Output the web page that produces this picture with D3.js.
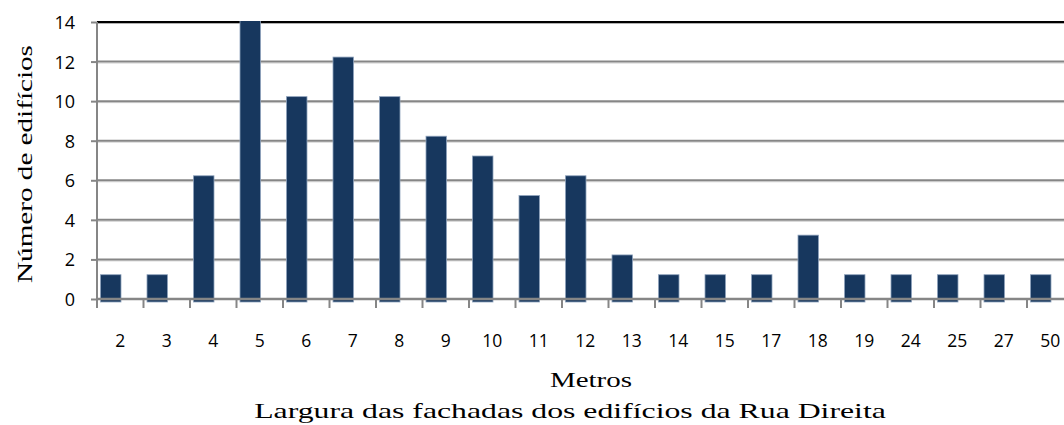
<!DOCTYPE html>
<html>
<head>
<meta charset="utf-8">
<script src="https://cdn.jsdelivr.net/npm/d3@7"></script>
<style>
  body { margin: 0; background: #fff; }
</style>
</head>
<body>
<div id="chart"></div>
<script>
// data
const categories = ["2", "3", "4", "5", "6", "7", "8", "9", "10", "11", "12", "13", "14", "15", "17", "18", "19", "24", "25", "27", "50"];
const buildings = [1, 1, 6, 14, 10, 12, 10, 8, 7, 5, 6, 2, 1, 1, 1, 3, 1, 1, 1, 1, 1];
const yTicks = [0, 2, 4, 6, 8, 10, 12, 14];

const data = categories.map((c, i) => ({ cat: c, value: buildings[i] }));

const svg = d3.select("#chart")
    .append("svg")
    .attr("width", 1064)
    .attr("height", 425);

const serif = "'Liberation Serif', 'Times New Roman', serif";
const sans = "'Open Sans', 'Noto Sans', sans-serif";

// plot area runs off the right edge, like the original
const plotLeft = 97, plotTop = 22, plotBottom = 299;
const x = d3.scaleBand()
    .domain(categories)
    .range([plotLeft, plotLeft + 21 * 46.5]);
const y = d3.scaleLinear()
    .domain([0, 14])
    .range([plotBottom, plotTop]);

// gridlines (with the faint shadow line under each)
const grid = svg.append("g");
grid.selectAll(".shadow")
    .data(yTicks.filter(d => d > 0 && d < 14))
    .join("line")
    .attr("x1", plotLeft).attr("x2", 1064)
    .attr("y1", d => y(d) + 1.5).attr("y2", d => y(d) + 1.5)
    .attr("stroke", "#d4d4d4").attr("stroke-width", 1);
grid.selectAll(".gl")
    .data(yTicks.filter(d => d > 0 && d < 14))
    .join("line")
    .attr("x1", plotLeft).attr("x2", 1064)
    .attr("y1", d => y(d)).attr("y2", d => y(d))
    .attr("stroke", "#868686").attr("stroke-width", 2);
// top border is black
svg.append("line")
    .attr("x1", plotLeft).attr("x2", 1064)
    .attr("y1", y(14)).attr("y2", y(14))
    .attr("stroke", "#000").attr("stroke-width", 2);
svg.append("line")
    .attr("x1", plotLeft).attr("x2", 1064)
    .attr("y1", y(14) + 1.5).attr("y2", y(14) + 1.5)
    .attr("stroke", "#b0b0b0").attr("stroke-width", 1);

// clip so the tallest bar stops at the top of the plot
svg.append("clipPath").attr("id", "plot")
    .append("rect")
    .attr("x", plotLeft).attr("y", plotTop - 1)
    .attr("width", 1064 - plotLeft).attr("height", plotBottom - plotTop + 20);

// bars (front face shifted a little, Excel 3D style)
const bw = 20.5;
svg.append("g")
    .attr("clip-path", "url(#plot)")
    .selectAll("rect")
    .data(data)
    .join("rect")
    .attr("x", d => x(d.cat) + 3.5)
    .attr("y", d => y(d.value) - 4.5)
    .attr("width", bw)
    .attr("height", d => y(0) + 3 - (y(d.value) - 4.5))
    .attr("fill", "#17375e")
    .attr("stroke", "#8ea2bc")
    .attr("stroke-width", 0.8);

// Y axis
const yAxis = svg.append("g")
    .attr("transform", `translate(${plotLeft}, 0)`)
    .call(d3.axisLeft(y).tickValues(yTicks).tickSize(6).tickPadding(16).tickSizeOuter(0));
yAxis.select(".domain").attr("stroke", "#868686").attr("stroke-width", 2)
    .attr("d", `M0,${plotTop}V${plotBottom + 9}`);
yAxis.selectAll(".tick line").attr("stroke", "#868686").attr("stroke-width", 2);
yAxis.selectAll(".tick text")
    .attr("dy", "0.36em")
    .style("font-family", sans).style("font-size", "18px").style("fill", "#000");

// X axis: ticks sit between categories
const xAxis = svg.append("g")
    .attr("transform", `translate(0, ${plotBottom})`)
    .call(d3.axisBottom(x).tickSize(0).tickPadding(36));
xAxis.select(".domain").remove();
xAxis.selectAll(".tick text")
    .style("font-family", sans).style("font-size", "17.5px").style("fill", "#000");
svg.append("line")
    .attr("x1", plotLeft).attr("x2", 1064)
    .attr("y1", plotBottom).attr("y2", plotBottom)
    .attr("stroke", "#868686").attr("stroke-width", 2.5);
svg.append("g")
    .selectAll("line")
    .data(categories.slice(1))
    .join("line")
    .attr("x1", d => x(d)).attr("x2", d => x(d))
    .attr("y1", plotBottom).attr("y2", plotBottom + 9)
    .attr("stroke", "#868686").attr("stroke-width", 2);

// titles: the original's serif is wider than ours, so stretch along the baseline
function title(txt, len, cx, cy, rot) {
    const g = svg.append("g").attr("transform", `translate(${cx}, ${cy}) rotate(${rot})`);
    const t = g.append("text")
        .attr("text-anchor", "middle")
        .style("font-family", serif).style("font-size", "22px").style("fill", "#000")
        .text(txt);
    const w = t.node().getComputedTextLength();
    t.attr("transform", `scale(${len / w}, 1)`);
}
title("Metros", 82, 591, 387, 0);
title("Largura das fachadas dos edifícios da Rua Direita", 632, 570, 418, 0);
title("Número de edifícios", 238, 32, 164, -90);
</script>
</body>
</html>
